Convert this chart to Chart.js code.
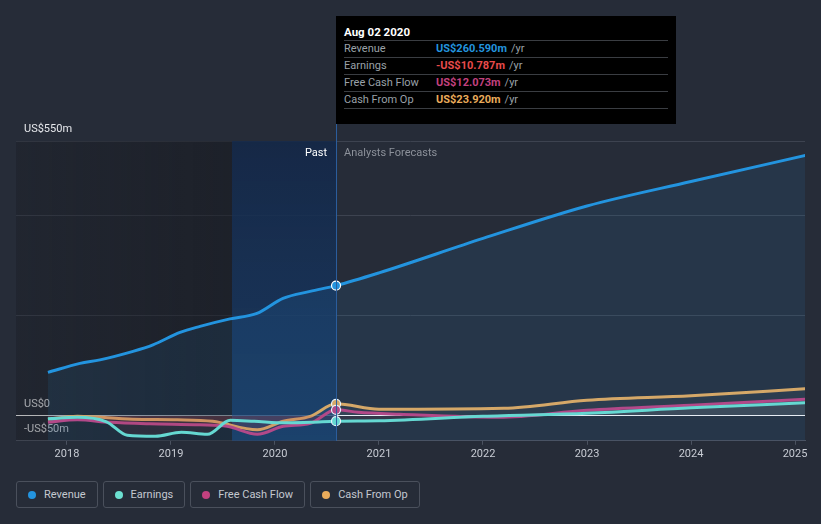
<!DOCTYPE html>
<html>
<head>
<meta charset="utf-8">
<script src="https://cdn.jsdelivr.net/npm/chart.js@4.4.1/dist/chart.umd.min.js"></script>
<style>
  html, body { margin: 0; padding: 0; background: #262c38; }
  body { width: 821px; height: 524px; position: relative; overflow: hidden; font-family: Roboto, "Open Sans", sans-serif; }
  #wrap { position: absolute; left: 0; top: 0; width: 821px; height: 470px; }
  #tip {
    position: absolute; left: 336px; top: 16px; width: 324px; height: 92px;
    padding: 8px 8px 8px 8px; background: #000; color: #9aa0a8; font-size: 11px;
  }
  #tip .title { height: 16px; line-height: 16px; color: #fff; font-weight: bold; font-size: 11.5px; }
  #tip .row { height: 16px; line-height: 16px; border-top: 1px solid #3a3d42; display: flex; }
  #tip .row:last-child { border-bottom: 1px solid #3a3d42; }
  #tip .lab { width: 92px; }
  #tip .val { font-weight: bold; margin-right: 4px; }
  #legend { position: absolute; left: 16px; top: 481px; display: flex; gap: 5px; }
  .item {
    border: 1px solid #4a505c; border-radius: 3px; box-sizing: border-box;
    height: 27px; padding: 0 11px 0 11px; display: flex; align-items: center;
    color: #c4c8d0; font-size: 11px;
  }
  .dot { width: 8px; height: 8px; border-radius: 50%; margin: 0 8px 0 0; }
</style>
</head>
<body>
<div id="wrap"><canvas id="chart"></canvas></div>
<div id="tip"></div>
<div id="legend"></div>
<script>
const years = [2018, 2019, 2020, 2021, 2022, 2023, 2024, 2025];
const currentDate = 2020.587;
const forecastStart = 2019.587;

const seriesNames = ["Revenue", "Earnings", "Free Cash Flow", "Cash From Op"];
const seriesColors = ["#2394df", "#6ce0d1", "#c2417f", "#e9ab5b"];

// dates as decimal years, values in US$ m
const revenueDates = [2017.817, 2018.125, 2018.317, 2018.635, 2018.827, 2019.087, 2019.279, 2019.567, 2019.827, 2020.077, 2020.337, 2020.587, 2021.0, 2022.0, 2023.0, 2024.0, 2025.1];
const revenueValues = [87, 105, 112, 129, 142, 167, 179, 194, 205, 235, 249, 260.59, 286, 355, 420, 469, 521];

const earningsDates = [2017.817, 2018.1, 2018.38, 2018.58, 2018.85, 2019.1, 2019.35, 2019.57, 2019.8, 2020.1, 2020.35, 2020.587, 2021.0, 2022.0, 2023.0, 2024.0, 2025.1];
const earningsValues = [-6, -3, -12, -39, -41, -33, -37, -9, -11, -14, -13, -10.787, -10, -1, 5, 16, 26];

const fcfDates = [2017.817, 2018.1, 2018.41, 2018.8, 2019.28, 2019.54, 2019.83, 2020.08, 2020.34, 2020.587, 2020.8, 2021.2, 2022.15, 2023.0, 2024.0, 2025.1];
const fcfValues = [-13, -8, -13, -16, -18, -21, -37, -21, -15, 12.073, 7, 3, -3, 11, 21, 33];

const cfoDates = [2017.817, 2018.1, 2018.63, 2019.06, 2019.4, 2019.83, 2020.08, 2020.34, 2020.587, 2021.0, 2022.2, 2023.0, 2024.0, 2025.1];
const cfoValues = [-7, -1, -7, -8, -11, -28, -11, -1, 23.92, 13, 15, 31, 40, 54];

const yTicks = [-50, 0, 200, 400, 550];
const yLabels = { "550": "US$550m", "0": "US$0", "-50": "-US$50m" };

const tipDate = "Aug 02 2020";
const tipValues = ["US$260.590m", "-US$10.787m", "US$12.073m", "US$23.920m"];
const tipColors = ["#2394df", "#e84b4b", "#c2417f", "#e9ab5b"];

function pts(dates, values) {
  return dates.map((d, i) => ({ x: d, y: values[i] }));
}

function lineSet(i, dates, values, fill) {
  return {
    label: seriesNames[i],
    data: pts(dates, values),
    borderColor: seriesColors[i],
    backgroundColor: seriesColors[i],
    borderWidth: 3,
    cubicInterpolationMode: "monotone",
    pointRadius: (ctx) => (ctx.raw && ctx.raw.x === currentDate ? 4.5 : 0),
    pointBorderColor: "#ffffff",
    pointBorderWidth: 1.2,
    pointHoverRadius: 0,
    fill: fill,
  };
}

// background areas, divider line, Past / Forecast labels
const bgPlugin = {
  id: "bg",
  beforeDatasetsDraw(chart) {
    const { ctx, chartArea: a, scales } = chart;
    const xf = scales.x.getPixelForValue(forecastStart);
    const xc = scales.x.getPixelForValue(currentDate);
    ctx.save();
    let g = ctx.createLinearGradient(a.left, 0, xf, 0);
    g.addColorStop(0, "rgba(22,24,30,0.3)");
    g.addColorStop(1, "rgba(22,24,30,0.55)");
    ctx.fillStyle = g;
    ctx.fillRect(a.left, a.top, xf - a.left, a.bottom - a.top);
    g = ctx.createLinearGradient(0, a.top, 0, a.bottom);
    g.addColorStop(0, "rgba(20,40,72,0.9)");
    g.addColorStop(1, "rgba(24,60,105,0.8)");
    ctx.fillStyle = g;
    ctx.fillRect(xf, a.top, xc - xf, a.bottom - a.top);
    ctx.restore();
  },
  afterDraw(chart) {
    const { ctx, chartArea: a, scales } = chart;
    const xc = scales.x.getPixelForValue(currentDate);
    ctx.save();
    ctx.strokeStyle = "#2c5f9e";
    ctx.lineWidth = 1;
    ctx.beginPath();
    ctx.moveTo(xc + 0.5, 116);
    ctx.lineTo(xc + 0.5, a.bottom);
    ctx.stroke();
    ctx.font = "11px Roboto";
    ctx.textBaseline = "middle";
    ctx.textAlign = "right";
    ctx.fillStyle = "#ffffff";
    ctx.fillText("Past", xc - 9, a.top + 12);
    ctx.textAlign = "left";
    ctx.fillStyle = "#8c919a";
    ctx.fillText("Analysts Forecasts", xc + 8, a.top + 12);
    ctx.restore();
  },
};

const chart = new Chart(document.getElementById("chart"), {
  type: "line",
  data: {
    datasets: [
      lineSet(0, revenueDates, revenueValues, { target: "start", above: "rgba(35,148,223,0.1)" }),
      lineSet(1, earningsDates, earningsValues, { target: "origin", above: "rgba(255,255,255,0.04)", below: "rgba(200,60,60,0.1)" }),
      lineSet(2, fcfDates, fcfValues, { target: "origin", above: "rgba(255,255,255,0.04)", below: "rgba(200,60,60,0.1)" }),
      lineSet(3, cfoDates, cfoValues, { target: "origin", above: "rgba(255,255,255,0.04)", below: "rgba(200,60,60,0.1)" }),
    ],
  },
  options: {
    responsive: true,
    maintainAspectRatio: false,
    animation: false,
    layout: { padding: { left: 0, right: 16, top: 141, bottom: 6 } },
    plugins: {
      legend: { display: false },
      tooltip: { enabled: false },
    },
    scales: {
      x: {
        type: "linear",
        min: 2017.51,
        max: 2025.096,
        afterBuildTicks: (scale) => { scale.ticks = years.map((v) => ({ value: v })); },
        ticks: {
          color: "#c8ccd4",
          font: { family: "Roboto", size: 11 },
          padding: 3,
          maxRotation: 0,
          callback: (v) => String(v),
        },
        grid: { drawOnChartArea: false, tickLength: 4, color: "#4b5260" },
        border: { color: "#4b5260" },
      },
      y: {
        min: -50,
        max: 550,
        afterBuildTicks: (scale) => { scale.ticks = yTicks.map((v) => ({ value: v })); },
        ticks: {
          mirror: true,
          padding: 8,
          labelOffset: -12,
          color: "#e6e8ec",
          font: { family: "Roboto", size: 11 },
          callback: (v) => yLabels[String(v)] || "",
        },
        grid: {
          drawTicks: false,
          color: (ctx) => (ctx.tick.value === 0 ? "#ffffff" : ctx.tick.value === -50 ? "rgba(0,0,0,0)" : "#3d4350"),
        },
        border: { display: false },
      },
    },
  },
  plugins: [bgPlugin],
});

// tooltip box
const tip = document.getElementById("tip");
let html = '<div class="title">' + tipDate + "</div>";
seriesNames.forEach((n, i) => {
  html += '<div class="row"><span class="lab">' + n + '</span><span class="val" style="color:' +
    tipColors[i] + '">' + tipValues[i] + "</span><span>/yr</span></div>";
});
tip.innerHTML = html;

// legend
const legend = document.getElementById("legend");
seriesNames.forEach((n, i) => {
  const el = document.createElement("div");
  el.className = "item";
  el.innerHTML = '<span class="dot" style="background:' + seriesColors[i] + '"></span>' + n;
  legend.appendChild(el);
});
</script>
</body>
</html>
